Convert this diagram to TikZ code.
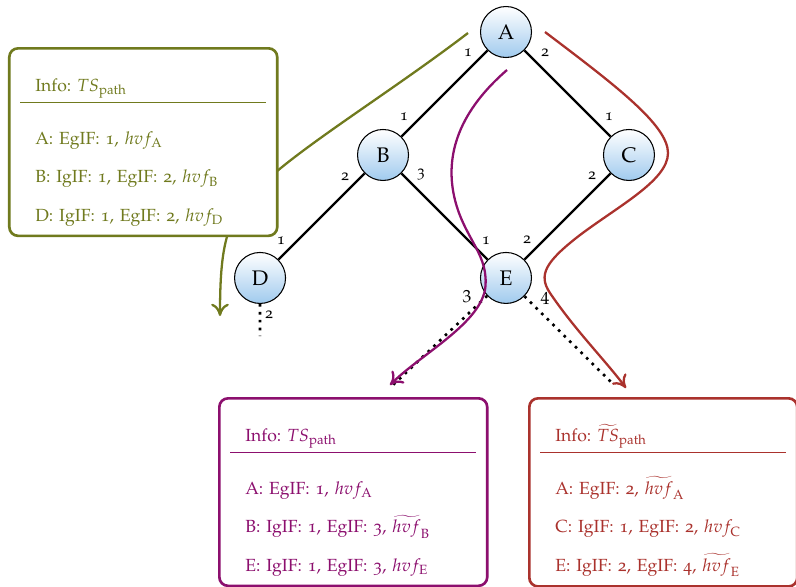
\documentclass[tikz,border=0pt]{standalone}
\usepackage[T1]{fontenc}
\usepackage[osf]{mathpazo}
\usepackage{amsmath}
\usepackage{tikz}
\usetikzlibrary{arrows.meta,positioning}

\definecolor{pathgreen}{RGB}{112,122,30}
\definecolor{pathviolet}{RGB}{140,15,110}
\definecolor{pathred}{RGB}{170,50,45}
\definecolor{nodeblue}{RGB}{160,202,238}
\frenchspacing

\begin{document}
\begin{tikzpicture}[
    x=0.02cm, y=0.02cm,
    on grid, node distance=2.46cm and 2.46cm,
    vertex/.style={circle, draw, line width=0.6pt, minimum size=1.02cm, inner sep=0pt,
                   top color=white, bottom color=nodeblue, font=\large},
    link/.style={line width=1.3pt},
    stub/.style={line width=1.5pt, dash pattern=on 1.5pt off 3pt},
    port/.style={font=\small, inner sep=1pt},
    route/.style={line width=1.3pt, -{To[length=7pt,width=10pt]}},
    info/.style={draw, line width=1.5pt, rounded corners=5pt, fill=white, anchor=north west,
                 align=left, text width=4.92cm, inner xsep=0.22cm, inner ysep=5.5pt,
                 execute at begin node={\setlength{\lineskiplimit}{-20pt}}},
    ]
\useasboundingbox (0,0) rectangle (796,-586);

% the tree
\node[vertex] (A) at (506,-32) {A};
\node[vertex, below left=of A] (B) {B};
\node[vertex, below right=of A] (C) {C};
\node[vertex, below left=of B] (D) {D};
\node[vertex, below right=of B] (E) {E};

\draw[link] (A) -- (B);
\draw[link] (A) -- (C);
\draw[link] (B) -- (D);
\draw[link] (B) -- (E);
\draw[link] (C) -- (E);

\coordinate (Dend) at (260,-336);
\coordinate (Eleft) at (393,-385);
\coordinate (Eright) at (614,-385);
\draw[stub] (D) -- (Dend);
\draw[stub] (E) -- (Eleft);
\draw[stub] (E) -- (Eright);

% port numbers
\node[port] (a1) at (468,-53) {1};
\node[port] (a2) at (545,-53) {2};
\node[port] (b1) at (404,-117) {1};
\node[port] (b2) at (345,-177) {2};
\node[port] (b3) at (421,-174) {3};
\node[port] (c1) at (609,-117) {1};
\node[port] (c2) at (592,-176) {2};
\node[port] (d1) at (281,-241) {1};
\node[port] (d2) at (269,-315) {2};
\node[port] (e1) at (486,-241) {1};
\node[port] (e2) at (527,-240) {2};
\node[port, font=\normalsize] (e3) at (467,-297) {$3$};
\node[port, font=\normalsize] (e4) at (545,-298) {$4$};

% the three routes
\coordinate (gstart) at (468,-33);
\coordinate (gend) at (220,-316);
\coordinate (vstart) at (507,-70);
\coordinate (vend) at (390,-385);
\coordinate (rstart) at (545,-32);
\coordinate (rend) at (626,-388);

\draw[route, pathgreen] (gstart) .. controls (400,-85) and (320,-135) .. (276,-172)
    .. controls (230,-210) and (220,-230) .. (gend);
\draw[route, pathviolet] (vstart) .. controls (455,-115) and (445,-160) .. (455,-200)
    .. controls (465,-240) and (490,-255) .. (485,-290)
    .. controls (478,-325) and (420,-355) .. (vend);
\draw[route, pathred] (rstart) .. controls (615,-85) and (668,-125) .. (668,-153)
    .. controls (668,-180) and (620,-205) .. (580,-235)
    .. controls (545,-262) and (538,-275) .. (550,-293)
    .. controls (575,-330) and (605,-360) .. (rend);

% info boxes
\node[info, draw=pathgreen, text=pathgreen] (infoG) at (8,-47) {%
  \rule{0pt}{19pt}\hspace*{0.3cm}Info: $TS_{\text{path}}$\\[-5.3pt]
  \rule{4.92cm}{0.6pt}\\[11.4pt]
  \hspace*{0.3cm}A: EgIF: 1, $hvf_{\mathrm{A}}$\\[9.9pt]
  \hspace*{0.3cm}B: IgIF: 1, EgIF: 2, $hvf_{\mathrm{B}}$\\[9.9pt]
  \hspace*{0.3cm}D: IgIF: 1, EgIF: 2, $hvf_{\mathrm{D}}$};

\node[info, draw=pathviolet, text=pathviolet] (infoV) at (218,-397) {%
  \rule{0pt}{19pt}\hspace*{0.3cm}Info: $TS_{\text{path}}$\\[-5.3pt]
  \rule{4.92cm}{0.6pt}\\[11.4pt]
  \hspace*{0.3cm}A: EgIF: 1, $hvf_{\mathrm{A}}$\\[9.9pt]
  \hspace*{0.3cm}B: IgIF: 1, EgIF: 3, $\widetilde{hvf}_{\mathrm{B}}$\\[9.9pt]
  \hspace*{0.3cm}E: IgIF: 1, EgIF: 3, $hvf_{\mathrm{E}}$};

\node[info, draw=pathred, text=pathred] (infoR) at (528,-397) {%
  \rule{0pt}{19pt}\hspace*{0.3cm}Info: $\widetilde{TS}_{\text{path}}$\\[-5.3pt]
  \rule{4.92cm}{0.6pt}\\[11.4pt]
  \hspace*{0.3cm}A: EgIF: 2, $\widetilde{hvf}_{\mathrm{A}}$\\[9.9pt]
  \hspace*{0.3cm}C: IgIF: 1, EgIF: 2, $hvf_{\mathrm{C}}$\\[9.9pt]
  \hspace*{0.3cm}E: IgIF: 2, EgIF: 4, $\widetilde{hvf}_{\mathrm{E}}$};
\end{tikzpicture}
\end{document}
